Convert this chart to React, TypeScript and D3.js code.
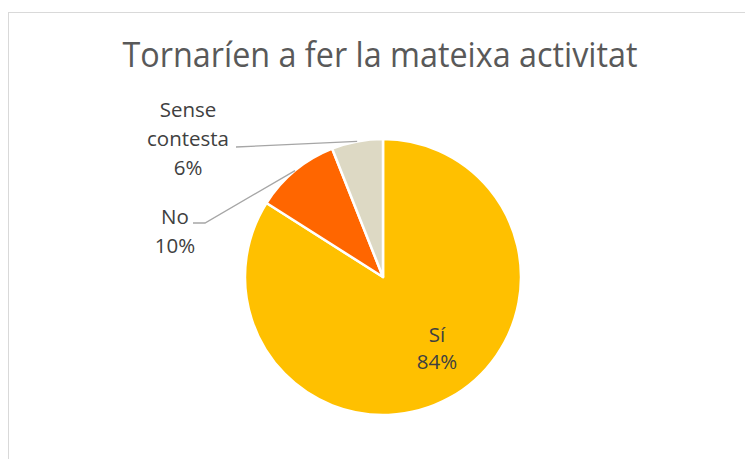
import React from "react";
import * as d3 from "d3";

const title = "Tornaríen a fer la mateixa activitat";
const categories = ["Sí", "No", "Sense contesta"];
const values = [84, 10, 6];
const colors = ["#FFC000", "#FF6600", "#DDD9C4"];
const labelLines = [["Sí", "84%"], ["No", "10%"], ["Sense", "contesta", "6%"]];

const W = 745;
const H = 459;
const cx = 383;
const cy = 277;
const R = 138;

// label layout (x center, first baseline y, leader start x/y side)
const labelPos = [
  { x: 437, y: 342, leader: null as null | { x: number; y: number; h: number } },
  { x: 175, y: 224, leader: { x: 193, y: 223, h: 12 } },
  { x: 188, y: 117, leader: { x: 236, y: 147, h: 0 } },
];

export default function App() {
  const pie = d3
    .pie<number>()
    .sort(null)
    .value((d) => d);
  const arcs = pie(values);
  const arcGen = d3.arc<d3.PieArcDatum<number>>().innerRadius(0).outerRadius(R);
  const lineGap = 29;

  return (
    <svg
      width={W}
      height={H}
      style={{ position: "absolute", left: 0, top: 0 }}
      fontFamily="'Open Sans', sans-serif"
    >
      <rect x={0} y={0} width={W} height={H} fill="#fff" />
      <rect x={8.5} y={12.5} width={W + 10} height={H + 10} fill="none" stroke="#d9d9d9" strokeWidth={1} />
      <text
        x={380}
        y={67}
        textAnchor="middle"
        fontSize={34}
        fill="#595959"
        textLength={515}
        lengthAdjust="spacingAndGlyphs"
      >
        {title}
      </text>
      <g transform={`translate(${cx},${cy})`}>
        {arcs.map((a, i) => (
          <path key={categories[i]} d={arcGen(a) || ""} fill={colors[i]} stroke="#fff" strokeWidth={2.5} strokeLinejoin="round" />
        ))}
      </g>
      {arcs.map((a, i) => {
        const lp = labelPos[i];
        if (!lp.leader) return null;
        const mid = (a.startAngle + a.endAngle) / 2;
        const ex = cx + R * Math.sin(mid);
        const ey = cy - R * Math.cos(mid);
        const pts: [number, number][] = [
          [lp.leader.x, lp.leader.y],
          [lp.leader.x + lp.leader.h, lp.leader.y],
          [ex, ey],
        ];
        return (
          <path
            key={"l" + i}
            d={d3.line()(pts) || ""}
            fill="none"
            stroke="#a6a6a6"
            strokeWidth={1.3}
          />
        );
      })}
      {labelLines.map((lines, i) => (
        <text
          key={"t" + i}
          x={labelPos[i].x}
          y={labelPos[i].y}
          textAnchor="middle"
          fontSize={20.5}
          fill="#404040"
        >
          {lines.map((ln, j) => (
            <tspan key={j} x={labelPos[i].x} y={labelPos[i].y + j * (i === 0 ? 27 : lineGap)}>
              {ln}
            </tspan>
          ))}
        </text>
      ))}
    </svg>
  );
}
